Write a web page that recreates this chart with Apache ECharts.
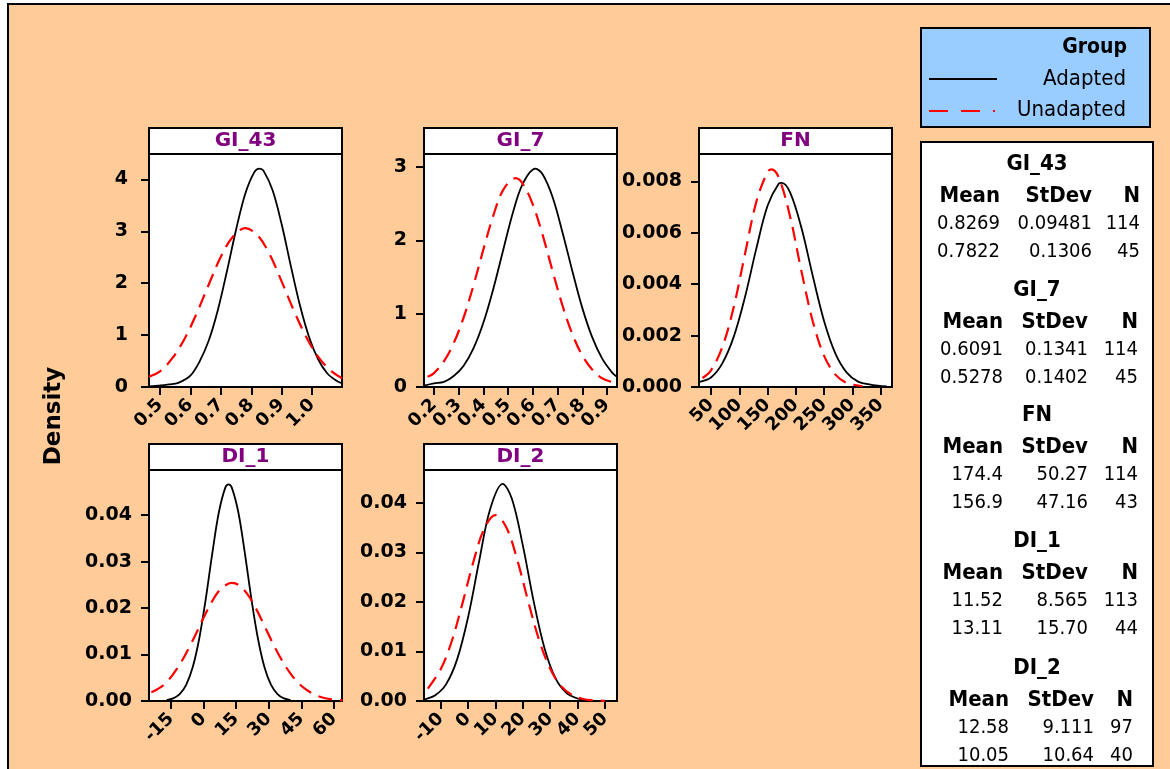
<!DOCTYPE html>
<html><head><meta charset="utf-8">
<script src="https://cdn.jsdelivr.net/npm/echarts@6/dist/echarts.min.js"></script>
<style>
html,body{margin:0;padding:0;background:#fff;width:1170px;height:769px;overflow:hidden;}
#bg{position:absolute;left:7px;top:3px;width:1163px;height:766px;background:#FFCC99;border-left:2px solid #000;border-top:2px solid #000;box-sizing:border-box;}
#chart{position:absolute;left:0;top:0;width:1170px;height:769px;}
</style></head><body><div id="bg"></div><div id="chart"></div>
<script>
// ---------------- data ----------------
const groups = ['Adapted', 'Unadapted'];
const panelNames = ['GI_43', 'GI_7', 'FN', 'DI_1', 'DI_2'];

const gi43Adapted = [[0.464,0.01],[0.50,0.03],[0.53,0.05],[0.56,0.08],[0.60,0.22],[0.63,0.49],[0.66,0.89],[0.69,1.48],[0.72,2.23],[0.75,3.03],[0.78,3.72],[0.81,4.14],[0.827,4.21],[0.84,4.17],[0.87,3.79],[0.90,3.13],[0.93,2.33],[0.96,1.57],[0.99,0.96],[1.02,0.53],[1.05,0.26],[1.08,0.12],[1.098,0.07]];
const gi43Unadapted = [[0.464,0.20],[0.50,0.30],[0.54,0.55],[0.58,0.92],[0.62,1.41],[0.66,1.97],[0.70,2.51],[0.74,2.90],[0.78,3.06],[0.82,2.93],[0.86,2.56],[0.90,2.03],[0.94,1.47],[0.98,0.97],[1.02,0.58],[1.06,0.32],[1.098,0.17]];

const gi7Adapted = [[0.16,0.02],[0.20,0.05],[0.24,0.07],[0.28,0.15],[0.32,0.29],[0.36,0.53],[0.40,0.88],[0.44,1.34],[0.48,1.87],[0.52,2.39],[0.56,2.78],[0.61,2.98],[0.64,2.90],[0.68,2.59],[0.72,2.11],[0.76,1.58],[0.80,1.08],[0.84,0.68],[0.88,0.39],[0.92,0.20],[0.94,0.14]];
const gi7Unadapted = [[0.174,0.14],[0.20,0.19],[0.24,0.35],[0.28,0.60],[0.32,0.95],[0.36,1.39],[0.40,1.88],[0.44,2.34],[0.48,2.69],[0.53,2.85],[0.56,2.77],[0.60,2.49],[0.64,2.07],[0.68,1.58],[0.72,1.11],[0.76,0.72],[0.80,0.43],[0.84,0.24],[0.88,0.12],[0.94,0.05]];

const fnAdapted = [[30,0.0002],[50,0.00037],[70,0.00092],[90,0.00194],[110,0.00349],[130,0.00537],[150,0.00705],[170,0.00791],[175,0.00794],[190,0.00756],[210,0.00618],[230,0.00431],[250,0.00256],[270,0.0013],[290,0.00056],[310,0.00021],[330,0.0001],[345,0.00005],[361,0.00002]];
const fnUnadapted = [[35,0.00035],[50,0.00065],[70,0.00155],[90,0.00309],[110,0.00516],[130,0.00719],[150,0.00837],[157,0.00846],[170,0.00814],[190,0.00661],[210,0.00449],[230,0.00255],[250,0.00121],[270,0.00048],[290,0.00016],[318,0.00003]];

const di1Adapted = [[-17,0.0002],[-14,0.00055],[-11,0.00147],[-8,0.00347],[-5,0.00725],[-2,0.0134],[1,0.0219],[4,0.0317],[7,0.0405],[10,0.0459],[11.5,0.0466],[13,0.0459],[16,0.0406],[19,0.0318],[22,0.022],[25,0.0135],[28,0.0073],[31,0.0035],[34,0.0015],[37,0.00056],[40,0.0002]];
const di1Unadapted = [[-24,0.0019],[-18,0.0036],[-12,0.0071],[-6,0.0121],[0,0.0179],[4,0.0215],[8,0.0241],[13,0.0254],[16,0.025],[20,0.0231],[24,0.02],[28,0.0162],[32,0.0123],[36,0.0088],[40,0.0059],[44,0.0037],[48,0.0022],[52,0.0012],[56,0.0006],[60,0.0003],[64,0.00013]];

const di2Adapted = [[-16,0.0003],[-12,0.00115],[-8,0.0034],[-4,0.0084],[0,0.0169],[4,0.0281],[8,0.0386],[12.6,0.0438],[16,0.0408],[20,0.0314],[24,0.02],[28,0.0105],[32,0.0045],[36,0.0016],[40,0.0005],[43,0.00017]];
const di2Unadapted = [[-14.7,0.0025],[-10,0.0064],[-6,0.012],[-2,0.0198],[2,0.0282],[6,0.0349],[10,0.0375],[14,0.035],[18,0.0284],[22,0.02],[26,0.0122],[30,0.0065],[34,0.003],[38,0.0012],[42,0.0004],[46,0.00013],[50,0.00003]];

// tick labels
const gi43XTicks = ['0.5','0.6','0.7','0.8','0.9','1.0'];
const gi43YTicks = ['0','1','2','3','4'];
const gi7XTicks = ['0.2','0.3','0.4','0.5','0.6','0.7','0.8','0.9'];
const gi7YTicks = ['0','1','2','3'];
const fnXTicks = ['50','100','150','200','250','300','350'];
const fnYTicks = ['0.000','0.002','0.004','0.006','0.008'];
const di1XTicks = ['-15','0','15','30','45','60'];
const di1YTicks = ['0.00','0.01','0.02','0.03','0.04'];
const di2XTicks = ['-10','0','10','20','30','40','50'];
const di2YTicks = ['0.00','0.01','0.02','0.03','0.04'];

// axis extents
const gi43XRange = [0.464, 1.098]; const gi43YMax = 4.49;
const gi7XRange = [0.1595, 0.9405]; const gi7YMax = 3.18;
const fnXRange = [28.8, 370]; const fnYMax = 0.00906;
const di1XRange = [-25.1, 63.7]; const di1YMax = 0.0497;
const di2XRange = [-16.1, 54.4]; const di2YMax = 0.0466;

// summary table
const statMeanAdapted = ['0.8269','0.6091','174.4','11.52','12.58'];
const statStdAdapted = ['0.09481','0.1341','50.27','8.565','9.111'];
const statNAdapted = ['114','114','114','113','97'];
const statMeanUnadapted = ['0.7822','0.5278','156.9','13.11','10.05'];
const statStdUnadapted = ['0.1306','0.1402','47.16','15.70','10.64'];
const statNUnadapted = ['45','45','43','44','40'];
const statHeaders = ['Mean','StDev','N'];

// ---------------- layout ----------------
const panels = [
  {name: panelNames[0], a: gi43Adapted, u: gi43Unadapted, xt: gi43XTicks, yt: gi43YTicks, xr: gi43XRange, ymax: gi43YMax, left: 149, top: 154, w: 193, h: 233, ylm: 21},
  {name: panelNames[1], a: gi7Adapted, u: gi7Unadapted, xt: gi7XTicks, yt: gi7YTicks, xr: gi7XRange, ymax: gi7YMax, left: 424, top: 154, w: 193, h: 233, ylm: 17},
  {name: panelNames[2], a: fnAdapted, u: fnUnadapted, xt: fnXTicks, yt: fnYTicks, xr: fnXRange, ymax: fnYMax, left: 699, top: 154, w: 193, h: 233, ylm: 17},
  {name: panelNames[3], a: di1Adapted, u: di1Unadapted, xt: di1XTicks, yt: di1YTicks, xr: di1XRange, ymax: di1YMax, left: 149, top: 470, w: 193, h: 231, ylm: 17},
  {name: panelNames[4], a: di2Adapted, u: di2Unadapted, xt: di2XTicks, yt: di2YTicks, xr: di2XRange, ymax: di2YMax, left: 424, top: 470, w: 193, h: 231, ylm: 17}
];

const TICKFONT = "'DejaVu Sans', Verdana, sans-serif";
const TXTFONT = "'DejaVu Sans Condensed', 'DejaVu Sans', sans-serif";
const RED_DASH = [14, 8];

function fmtFrom(labels) {
  return function (v) {
    for (const s of labels) { if (Math.abs(Number(s) - v) < 1e-9) return s; }
    return '';
  };
}

const grids = [], xAxes = [], yAxes = [], series = [], graphics = [];
panels.forEach(function (p, i) {
  grids.push({left: p.left, top: p.top, width: p.w, height: p.h, show: true, backgroundColor: '#fff',
    borderColor: '#000', borderWidth: 2, outerBoundsMode: 'none'});
  const xv = p.xt.map(Number), yv = p.yt.map(Number);
  // labels are split over two overlaid bottom axes so that none gets auto-hidden
  const xvEven = xv.filter(function (v, k) { return k % 2 === 0; });
  const xvOdd = xv.filter(function (v, k) { return k % 2 === 1; });
  const lab = {rotate: 45, margin: 15, color: '#000', fontWeight: 'bold', fontSize: 18,
    fontFamily: TICKFONT, hideOverlap: false, showMinLabel: true, showMaxLabel: true,
    formatter: fmtFrom(p.xt)};
  xAxes.push({gridIndex: i, type: 'value', position: 'bottom', min: p.xr[0], max: p.xr[1],
    axisLine: {show: true, onZero: false, lineStyle: {color: '#000', width: 2}},
    axisTick: {show: true, customValues: xv, length: 8, lineStyle: {color: '#000', width: 2}},
    axisLabel: Object.assign({customValues: xvEven}, lab),
    splitLine: {show: false}});
  xAxes.push({gridIndex: i, type: 'value', position: 'bottom', offset: 0, min: p.xr[0], max: p.xr[1],
    axisLine: {show: false}, axisTick: {show: false},
    axisLabel: Object.assign({customValues: xvOdd}, lab),
    splitLine: {show: false}});
  yAxes.push({gridIndex: i, type: 'value', min: 0, max: p.ymax,
    axisLine: {show: true, onZero: false, lineStyle: {color: '#000', width: 2}},
    axisTick: {show: true, customValues: yv, length: 8, lineStyle: {color: '#000', width: 2}},
    axisLabel: {customValues: yv, formatter: fmtFrom(p.yt), margin: p.ylm, color: '#000',
      fontWeight: 'bold', fontSize: 19, fontFamily: TICKFONT, showMinLabel: true, showMaxLabel: true},
    splitLine: {show: false}});
  series.push({name: groups[0], type: 'line', xAxisIndex: 2 * i, yAxisIndex: i, data: p.a, symbol: 'none',
    smooth: 0.35, clip: true, silent: true,
    lineStyle: {color: '#000', width: 1.8, type: 'solid'}});
  series.push({name: groups[1], type: 'line', xAxisIndex: 2 * i, yAxisIndex: i, data: p.u, symbol: 'none',
    smooth: 0.35, clip: true, silent: true,
    lineStyle: {color: '#FF0000', width: 2.2, type: RED_DASH}});
  // header strip
  const hh = 25;
  graphics.push({type: 'rect', shape: {x: p.left, y: p.top - hh - 1, width: p.w, height: hh + 1},
    style: {fill: '#fff', stroke: '#000', lineWidth: 2}, z: 10});
  graphics.push({type: 'text', x: p.left + p.w / 2, y: p.top - hh / 2 - 1, z: 11,
    style: {text: p.name, fill: '#800080', font: "bold 20px " + TICKFONT, align: 'center', verticalAlign: 'middle'}});
});

// Density label
graphics.push({type: 'text', x: 54, y: 416, rotation: Math.PI / 2, z: 11,
  style: {text: 'Density', fill: '#000', font: "bold 23px " + TICKFONT, align: 'center', verticalAlign: 'middle'}});

// legend box
graphics.push({type: 'rect', shape: {x: 921, y: 28, width: 229, height: 99},
  style: {fill: '#99CCFF', stroke: '#000', lineWidth: 2}, z: 10});
graphics.push({type: 'text', x: 1127, y: 48, z: 11,
  style: {text: 'Group', fill: '#000', font: "bold 21px " + TXTFONT, align: 'right', verticalAlign: 'middle'}});
graphics.push({type: 'text', x: 1126, y: 79, z: 11,
  style: {text: groups[0], fill: '#000', font: "22px " + TXTFONT, align: 'right', verticalAlign: 'middle'}});
graphics.push({type: 'text', x: 1126, y: 110, z: 11,
  style: {text: groups[1], fill: '#000', font: "22px " + TXTFONT, align: 'right', verticalAlign: 'middle'}});
graphics.push({type: 'line', shape: {x1: 929, y1: 79, x2: 997, y2: 79}, z: 11,
  style: {stroke: '#000', lineWidth: 2}});
graphics.push({type: 'line', shape: {x1: 929, y1: 111, x2: 997, y2: 111}, z: 11,
  style: {stroke: '#FF0000', lineWidth: 2, lineDash: [19, 13, 19, 13, 2, 20]}});

// summary table
graphics.push({type: 'rect', shape: {x: 921, y: 142, width: 232, height: 624},
  style: {fill: '#fff', stroke: '#000', lineWidth: 2}, z: 10});
const blockY = [164, 290, 415, 541, 668];
const colRight = [[1000, 1092, 1140], [1003, 1088, 1138], [1003, 1088, 1138], [1003, 1088, 1138], [1009, 1094, 1133]];
panelNames.forEach(function (nm, b) {
  const y0 = blockY[b];
  graphics.push({type: 'text', x: 1037, y: y0, z: 11,
    style: {text: nm, fill: '#000', font: "bold 22px " + TXTFONT, align: 'center', verticalAlign: 'middle'}});
  statHeaders.forEach(function (h, c) {
    graphics.push({type: 'text', x: colRight[b][c], y: y0 + 32, z: 11,
      style: {text: h, fill: '#000', font: "bold 22px " + TXTFONT, align: 'right', verticalAlign: 'middle'}});
  });
  const r1 = [statMeanAdapted[b], statStdAdapted[b], statNAdapted[b]];
  const r2 = [statMeanUnadapted[b], statStdUnadapted[b], statNUnadapted[b]];
  [r1, r2].forEach(function (row, r) {
    row.forEach(function (t, c) {
      graphics.push({type: 'text', x: colRight[b][c], y: y0 + 60 + r * 28, z: 11,
        style: {text: t, fill: '#000', font: "20px " + TXTFONT, align: 'right', verticalAlign: 'middle'}});
    });
  });
});

const chart = echarts.init(document.getElementById('chart'), null, {renderer: 'canvas'});
chart.setOption({
  animation: false,
  backgroundColor: 'transparent',
  grid: grids, xAxis: xAxes, yAxis: yAxes, series: series,
  graphic: {elements: graphics}
});
</script></body></html>
